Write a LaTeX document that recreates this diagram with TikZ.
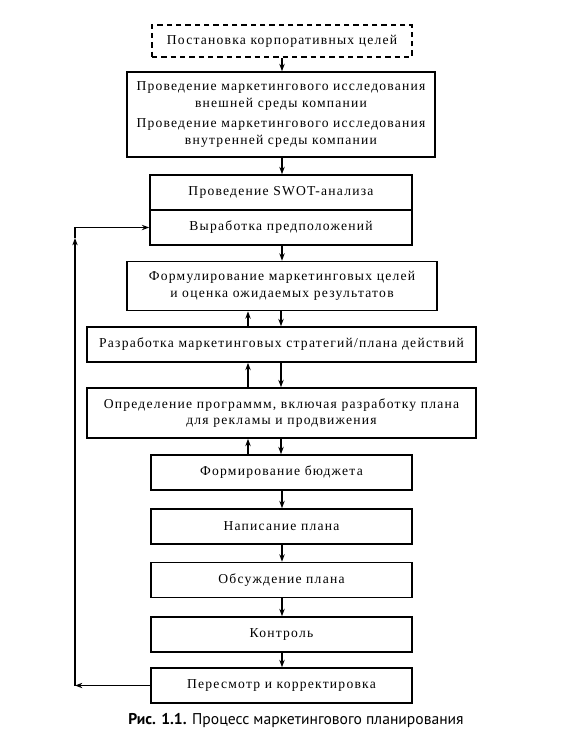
\documentclass[tikz,border=0pt]{standalone}
\usepackage{fontspec}
\setmainfont[LetterSpace=9]{Liberation Serif}
\newfontfamily\capfont{PT Sans}
\usetikzlibrary{arrows.meta}
\begin{document}
\begin{tikzpicture}[x=0.75pt,y=-0.75pt,
  box/.style={draw,line width=1.2pt,inner sep=0pt,align=center,font=\fontsize{10.2}{12.6}\selectfont},
  dbox/.style={box,dashed,dash pattern=on 4pt off 3pt},
  arr/.style={line width=0.95pt,-{Stealth[length=5.5pt,width=4pt]}}]
\useasboundingbox (0,0) rectangle (585,751);
\node[dbox,minimum width=260*0.75pt,minimum height=32*0.75pt] (goals) at (282,41) {Постановка корпоративных целей};
\node[box,minimum width=308*0.75pt,minimum height=85*0.75pt] (res) at (281,114.5)
  {Проведение маркетингового исследования\\внешней среды компании\\[3pt]Проведение маркетингового исследования\\внутренней среды компании};
\node[box,minimum width=262*0.75pt,minimum height=35*0.75pt] (swot) at (281,192.5) {Проведение SWOT-анализа};
\node[box,minimum width=262*0.75pt,minimum height=35*0.75pt] (vyr) at (281,227.5) {Выработка предположений};
\node[box,minimum width=310*0.75pt,minimum height=49*0.75pt] (form) at (282,286)
  {Формулирование маркетинговых целей\\и оценка ожидаемых результатов};
\node[box,minimum width=389*0.75pt,minimum height=35*0.75pt] (razr) at (281.5,344.5)
  {Разработка маркетинговых стратегий/плана действий};
\node[box,minimum width=389*0.75pt,minimum height=50*0.75pt] (opr) at (281.5,413)
  {Определение программм, включая разработку плана\\для рекламы и продвижения};
\node[box,minimum width=261*0.75pt,minimum height=35*0.75pt] (bud) at (281.5,472.5) {Формирование бюджета};
\node[box,minimum width=261*0.75pt,minimum height=35*0.75pt] (wri) at (281.5,526.5) {Написание плана};
\node[box,minimum width=261*0.75pt,minimum height=35*0.75pt] (dis) at (281.5,580) {Обсуждение плана};
\node[box,minimum width=261*0.75pt,minimum height=35*0.75pt] (ctl) at (281.5,634.5) {Контроль};
\node[box,minimum width=261*0.75pt,minimum height=35*0.75pt] (rev) at (281.5,685.5) {Пересмотр и корректировка};
\node[font=\capfont\fontsize{11.7}{14}\selectfont,inner sep=0pt] (cap) at (296,720)
  {\textbf{Рис. 1.1.} Процесс маркетингового планирования};
% down arrows
\draw[arr] (goals.south -| 282,0) -- (res.north -| 282,0);
\draw[arr] (res.south -| 282,0) -- (swot.north -| 282,0);
\draw[arr] (vyr.south -| 282,0) -- (form.north -| 282,0);
\draw[arr] (form.south -| 281,0) -- (razr.north -| 281,0);
\draw[arr] (razr.south -| 281,0) -- (opr.north -| 281,0);
\draw[arr] (opr.south -| 281,0) -- (bud.north -| 281,0);
\draw[arr] (bud.south -| 282,0) -- (wri.north -| 282,0);
\draw[arr] (wri.south -| 282,0) -- (dis.north -| 282,0);
\draw[arr] (dis.south -| 282,0) -- (ctl.north -| 282,0);
\draw[arr] (ctl.south -| 282,0) -- (rev.north -| 282,0);
% up arrows
\draw[arr] (razr.north -| 248,0) -- (form.south -| 248,0);
\draw[arr] (opr.north -| 248,0) -- (razr.south -| 248,0);
\draw[arr] (bud.north -| 248,0) -- (opr.south -| 248,0);
% feedback loop
\coordinate (bl) at (rev.west -| 75,0);
\coordinate (tl) at (vyr.west -| 75,0);
\coordinate (mid) at (75,238);
\draw[arr] (rev.west) -- (bl);
\draw[arr] (bl) -- (mid);
\draw[arr] (mid) -- (tl) -- (vyr.west);
\end{tikzpicture}
\end{document}
